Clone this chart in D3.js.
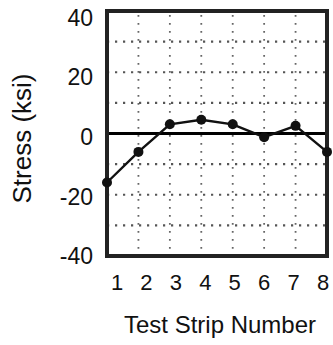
<!DOCTYPE html>
<html>
<head>
<meta charset="utf-8">
<script src="https://cdn.jsdelivr.net/npm/d3@7"></script>
<style>
  body { margin: 0; background: #fff; }
  text { font-family: "Liberation Sans", Arial, sans-serif; fill: #111; }
</style>
</head>
<body>
<div id="chart"></div>
<script>
// data
const strips = [1, 2, 3, 4, 5, 6, 7, 8];
const stress = [-16, -6, 3, 4.5, 3, -1.2, 2.5, -6];
const yTicks = [40, 20, 0, -20, -40];
const yGrid = [30, 20, 10, -10, -20, -30];
const xGrid = [2, 3, 4, 5, 6, 7];
const xLabels = ["1", "2", "3", "4", "5", "6", "7", "8"];

const width = 333, height = 345;
const box = {left: 107, right: 327, top: 11, bottom: 256};

const svg = d3.select("#chart").append("svg")
    .attr("width", width)
    .attr("height", height);

const x = d3.scaleLinear().domain([1, 8]).range([box.left, box.right]);
const y = d3.scaleLinear().domain([-40, 40]).range([box.bottom, box.top]);

// labels sit a bit off the grid in the original, so they get their own scales
const xLab = d3.scalePoint().domain(xLabels).range([117, 323]);
const yLab = d3.scaleLinear().domain([-40, 40]).range([256, 17.5]);

// dotted grid
svg.append("g").selectAll("line")
    .data(yGrid)
    .join("line")
    .attr("x1", box.left).attr("x2", box.right)
    .attr("y1", d => y(d)).attr("y2", d => y(d))
    .attr("stroke", "#555")
    .attr("stroke-width", 2.2)
    .attr("stroke-dasharray", "2.2,5.8");

svg.append("g").selectAll("line")
    .data(xGrid)
    .join("line")
    .attr("x1", d => x(d)).attr("x2", d => x(d))
    .attr("y1", box.top + 4).attr("y2", box.bottom - 4)
    .attr("stroke", "#666")
    .attr("stroke-width", 1.8)
    .attr("stroke-dasharray", "1.8,6.2");

// zero line
svg.append("line")
    .attr("x1", box.left).attr("x2", box.right)
    .attr("y1", y(0)).attr("y2", y(0))
    .attr("stroke", "#000")
    .attr("stroke-width", 3.2);

// frame
svg.append("rect")
    .attr("x", box.left).attr("y", box.top)
    .attr("width", box.right - box.left)
    .attr("height", box.bottom - box.top)
    .attr("fill", "none")
    .attr("stroke", "#222")
    .attr("stroke-width", 4);

// data line and markers
const line = d3.line()
    .x((d, i) => x(strips[i]))
    .y(d => y(d));

svg.append("path")
    .datum(stress)
    .attr("d", line)
    .attr("fill", "none")
    .attr("stroke", "#111")
    .attr("stroke-width", 2.4);

svg.append("g").selectAll("circle")
    .data(stress)
    .join("circle")
    .attr("cx", (d, i) => x(strips[i]))
    .attr("cy", d => y(d))
    .attr("r", 5)
    .attr("fill", "#111");

// y tick labels
svg.append("g").selectAll("text")
    .data(yTicks)
    .join("text")
    .attr("x", 93)
    .attr("y", d => yLab(d))
    .attr("dy", "0.36em")
    .attr("text-anchor", "end")
    .attr("font-size", 23)
    .text(d => d);

// x tick labels
svg.append("g").selectAll("text")
    .data(xLabels)
    .join("text")
    .attr("x", d => xLab(d))
    .attr("y", 290)
    .attr("text-anchor", "middle")
    .attr("font-size", 22)
    .text(d => d);

// axis titles
svg.append("text")
    .attr("transform", "translate(31,138.5) rotate(-90)")
    .attr("text-anchor", "middle")
    .attr("font-size", 26)
    .text("Stress (ksi)");

svg.append("text")
    .attr("x", 220)
    .attr("y", 333)
    .attr("text-anchor", "middle")
    .attr("font-size", 24)
    .text("Test Strip Number");
</script>
</body>
</html>
